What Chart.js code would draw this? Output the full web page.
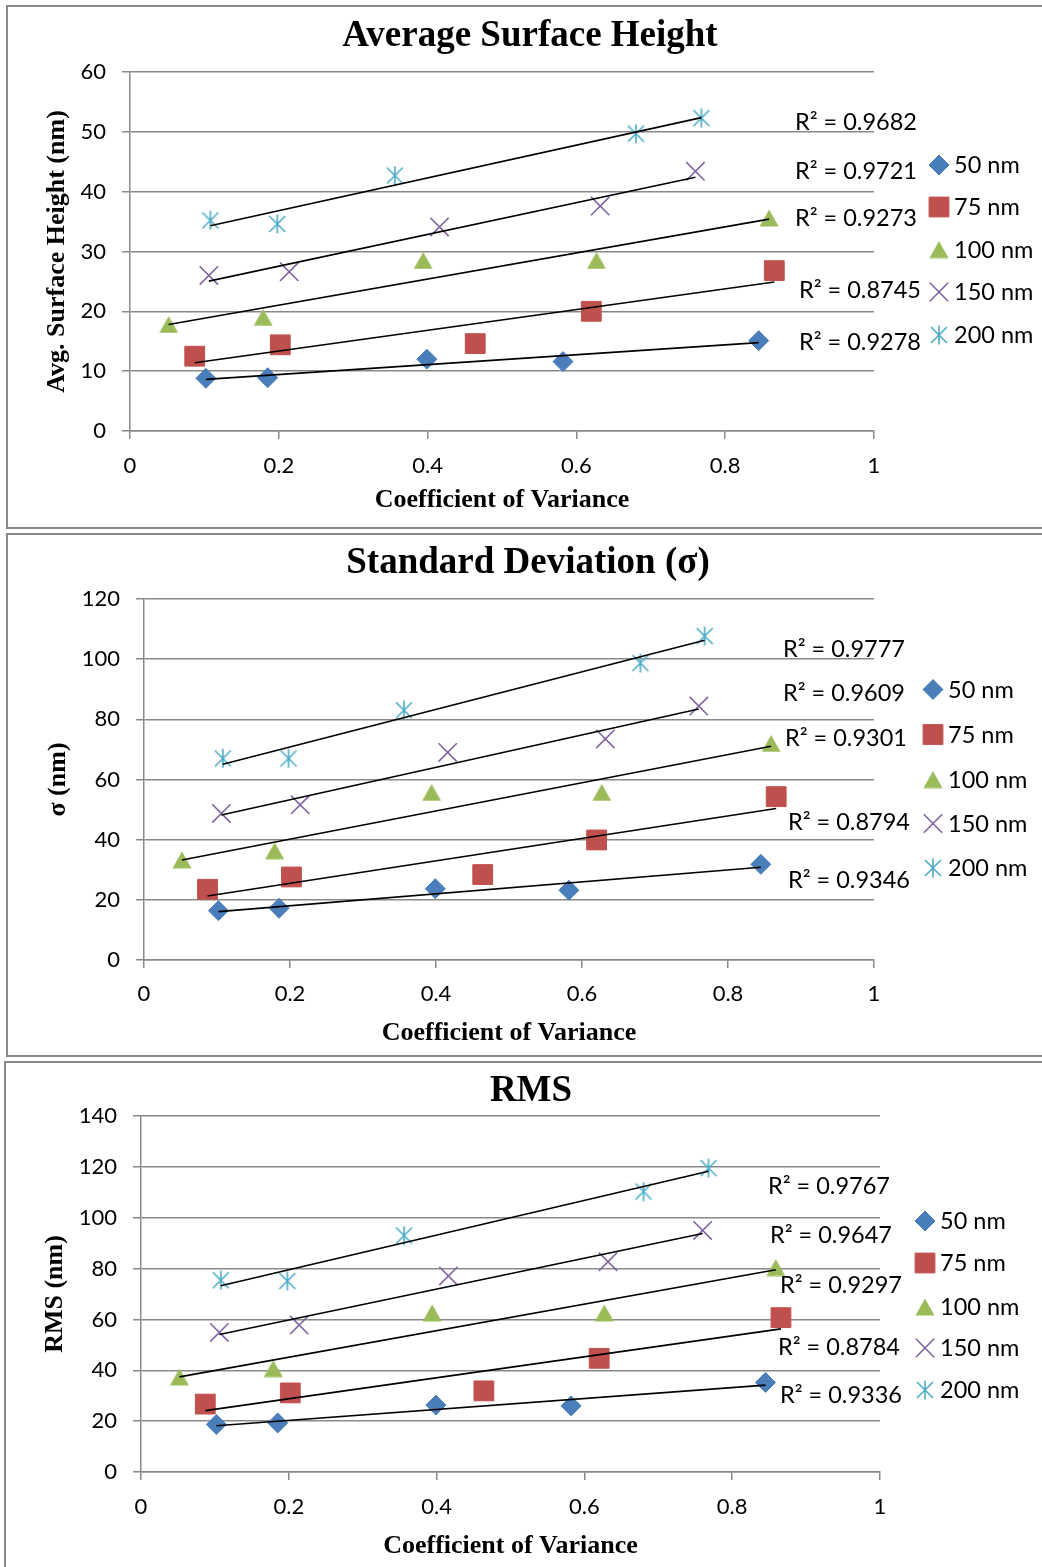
<!DOCTYPE html>
<html>
<head>
<meta charset="utf-8">
<title>Surface roughness vs. coefficient of variance</title>
<script src="https://cdn.jsdelivr.net/npm/chart.js@4.4.1/dist/chart.umd.min.js"></script>
<style>
  html, body { margin: 0; padding: 0; background: #fff; }
  body { width: 1042px; height: 1567px; overflow: hidden; position: relative; }
  .panel { position: absolute; box-sizing: border-box; border: 2px solid #898989; background: #fff; }
  .panel canvas { position: absolute; left: 0; top: 0; }
</style>
</head>
<body>
<div class="panel" style="left:6px;top:5px;width:1060px;height:524px"><canvas id="chartAvg" width="1056" height="520"></canvas></div>
<div class="panel" style="left:6px;top:533px;width:1060px;height:524px"><canvas id="chartSigma" width="1056" height="520"></canvas></div>
<div class="panel" style="left:4px;top:1061px;width:1062px;height:520px"><canvas id="chartRms" width="1058" height="516"></canvas></div>

<script>
// ---- data ----------------------------------------------------------------
const seriesNames = ['50 nm', '75 nm', '100 nm', '150 nm', '200 nm'];

// coefficient of variance of each sample, per particle size
const cov50  = [0.102, 0.185, 0.399, 0.582, 0.845];
const cov75  = [0.087, 0.202, 0.464, 0.620, 0.866];
const cov100 = [0.052, 0.179, 0.394, 0.627, 0.859];
const cov150 = [0.106, 0.214, 0.416, 0.632, 0.760];
const cov200 = [0.108, 0.198, 0.356, 0.680, 0.768];

// average surface height (nm)
const avg50  = [8.8, 8.9, 12.0, 11.6, 15.1];
const avg75  = [12.5, 14.4, 14.6, 20.0, 26.8];
const avg100 = [17.8, 19.0, 28.5, 28.5, 35.6];
const avg150 = [26.0, 26.6, 34.1, 37.6, 43.4];
const avg200 = [35.2, 34.6, 42.7, 49.7, 52.3];

// standard deviation sigma (nm)
const sigma50  = [16.4, 17.2, 23.7, 23.2, 31.8];
const sigma75  = [23.5, 27.6, 28.4, 39.9, 54.3];
const sigma100 = [33.3, 36.3, 55.7, 55.7, 72.0];
const sigma150 = [48.7, 51.6, 69.0, 73.5, 84.4];
const sigma200 = [67.0, 67.0, 83.0, 98.7, 107.7];

// RMS roughness (nm)
const rms50  = [18.7, 19.3, 26.3, 26.0, 35.2];
const rms75  = [26.7, 31.1, 31.9, 44.7, 60.7];
const rms100 = [37.4, 40.7, 62.6, 62.6, 80.4];
const rms150 = [54.9, 57.8, 77.1, 82.7, 95.0];
const rms200 = [75.4, 75.1, 93.0, 110.3, 119.5];

// R² of the linear trend lines, in series order (50 nm ... 200 nm)
const r2Avg   = ['0.9278', '0.8745', '0.9273', '0.9721', '0.9682'];
const r2Sigma = ['0.9346', '0.8794', '0.9301', '0.9609', '0.9777'];
const r2Rms   = ['0.9336', '0.8784', '0.9297', '0.9647', '0.9767'];

// axis ticks
const xTicks      = [0, 0.2, 0.4, 0.6, 0.8, 1];
const yTicksAvg   = [0, 10, 20, 30, 40, 50, 60];
const yTicksSigma = [0, 20, 40, 60, 80, 100, 120];
const yTicksRms   = [0, 20, 40, 60, 80, 100, 120, 140];

// ---- marker styles ---------------------------------------------------------
const COLORS = ['#4A7EBB', '#C0504D', '#9BBB59', '#8064A2', '#4BACC6'];

function triangleMarker(color) {
  const c = document.createElement('canvas');
  c.width = 20; c.height = 18;
  const g = c.getContext('2d');
  g.fillStyle = color;
  g.beginPath();
  g.moveTo(10, 0.5); g.lineTo(19.5, 17.5); g.lineTo(0.5, 17.5);
  g.closePath(); g.fill();
  return c;
}
function asteriskMarker(color) {
  const c = document.createElement('canvas');
  c.width = 20; c.height = 20;
  const g = c.getContext('2d');
  g.strokeStyle = color; g.lineWidth = 1.6;
  g.beginPath();
  g.moveTo(2, 2); g.lineTo(18, 18);
  g.moveTo(18, 2); g.lineTo(2, 18);
  g.moveTo(10, 0.5); g.lineTo(10, 19.5);
  g.stroke();
  return c;
}

const MARKERS = [
  { pointStyle: 'rectRot', radius: 10, borderWidth: 1 },
  { pointStyle: 'rect', radius: 14, borderWidth: 1 },
  { pointStyle: triangleMarker(COLORS[2]), radius: 10, borderWidth: 0 },
  { pointStyle: 'crossRot', radius: 13, borderWidth: 1.6 },
  { pointStyle: asteriskMarker(COLORS[4]), radius: 10, borderWidth: 0 }
];

// least-squares straight line across the range of the series
function trend(xs, ys) {
  const n = xs.length;
  const mx = xs.reduce((s, v) => s + v, 0) / n;
  const my = ys.reduce((s, v) => s + v, 0) / n;
  let sxy = 0, sxx = 0;
  for (let i = 0; i < n; i++) { sxy += (xs[i] - mx) * (ys[i] - my); sxx += (xs[i] - mx) ** 2; }
  const b = sxy / sxx, a = my - b * mx;
  const lo = Math.min(...xs), hi = Math.max(...xs);
  return [{ x: lo, y: a + b * lo }, { x: hi, y: a + b * hi }];
}

// ---- text drawn around the plot: title, legend, R² labels --------------------
const LABEL_FONT = '23.5px Lato, "Open Sans", sans-serif';
const LABEL_DROP = 8.4;   // cap-centre to baseline for the label font

const panelText = {
  id: 'panelText',
  afterDraw(chart, args, o) {
    const ctx = chart.ctx;
    ctx.save();
    ctx.fillStyle = '#000';
    ctx.textBaseline = 'alphabetic';

    // title
    ctx.font = 'bold 37px "Liberation Serif", "Times New Roman", serif';
    ctx.textAlign = 'center';
    ctx.fillText(o.title, o.titleX - o.ox, o.titleY - o.oy);

    ctx.font = LABEL_FONT;
    ctx.textAlign = 'left';

    // R² labels (left edge, cap centre)
    o.r2.forEach((txt, i) => {
      const p = o.r2Pos[i];
      ctx.fillText('R² = ' + txt, p[0] - o.ox, p[1] - o.oy + LABEL_DROP);
    });

    // legend
    const scatter = chart.data.datasets.filter(d => d.isSeries);
    scatter.forEach((ds, i) => {
      const y = o.legendY[i] - o.oy;
      ctx.save();
      ctx.fillStyle = ds.backgroundColor;
      ctx.strokeStyle = ds.borderColor;
      ctx.lineWidth = ds.borderWidth;
      Chart.helpers.drawPoint(ctx, {
        pointStyle: ds.pointStyle, radius: ds.pointRadius, rotation: 0, borderWidth: ds.borderWidth
      }, o.legendMarkerX - o.ox, y);
      ctx.restore();
      ctx.fillText(ds.label, o.legendTextX - o.ox, y + LABEL_DROP);
    });
    ctx.restore();
  }
};

// ---- one chart per panel ------------------------------------------------------
function buildChart(spec) {
  const canvas = document.getElementById(spec.id);
  const W = canvas.width, H = canvas.height;
  const ox = spec.origin[0], oy = spec.origin[1];
  const [L, T, R, B] = spec.area;            // plot area edges on the page
  const padLeft = 4;
  const yAxisW = (L - ox) - padLeft;
  const xAxisH = 95;
  const titleFont = { family: '"Liberation Serif", "Times New Roman", serif', size: 26, weight: 'bold', lineHeight: 1.2 };
  const half = 26 * 1.2 / 2;

  const datasets = [];
  spec.ys.forEach((ys, i) => {
    const xs = spec.xs[i];
    const m = MARKERS[i];
    datasets.push({
      isSeries: true,
      label: seriesNames[i],
      data: xs.map((x, j) => ({ x: x, y: ys[j] })),
      showLine: false,
      pointStyle: m.pointStyle,
      pointRadius: m.radius,
      pointHoverRadius: m.radius,
      backgroundColor: COLORS[i],
      borderColor: COLORS[i],
      borderWidth: m.borderWidth,
      order: 2
    });
  });
  spec.ys.forEach((ys, i) => {
    datasets.push({
      type: 'line',
      label: seriesNames[i] + ' trend',
      data: trend(spec.xs[i], ys),
      borderColor: '#000',
      borderWidth: 1.6,
      pointRadius: 0,
      fill: false,
      tension: 0,
      order: 1
    });
  });

  return new Chart(canvas, {
    type: 'scatter',
    data: { datasets },
    plugins: [panelText],
    options: {
      responsive: false,
      animation: false,
      devicePixelRatio: 1,
      layout: {
        padding: {
          left: padLeft,
          top: T - oy,
          right: W - (R - ox),
          bottom: Math.max(0, H - (B - oy) - xAxisH)
        }
      },
      plugins: {
        legend: { display: false },
        title: { display: false },
        tooltip: { enabled: false },
        panelText: {
          ox, oy,
          title: spec.title, titleX: spec.titlePos[0], titleY: spec.titlePos[1],
          r2: spec.r2, r2Pos: spec.r2Pos,
          legendMarkerX: spec.legend[0], legendTextX: spec.legend[1], legendY: spec.legend[2]
        }
      },
      scales: {
        x: {
          type: 'linear',
          position: 'bottom',
          min: 0, max: 1,
          afterBuildTicks: s => { s.ticks = xTicks.map(v => ({ value: v })); },
          afterFit: s => { s.height = xAxisH; },
          ticks: {
            callback: v => String(v),
            color: '#000',
            padding: spec.xTickPad,
            font: { family: 'Lato, "Open Sans", sans-serif', size: 22 },
            maxRotation: 0, autoSkip: false
          },
          grid: { drawOnChartArea: false, drawTicks: true, tickLength: 8, color: '#898989', lineWidth: 1.5 },
          border: { display: true, color: '#898989', width: 1.5 },
          title: {
            display: true, text: 'Coefficient of Variance', color: '#000', font: titleFont,
            padding: { top: 0, bottom: (B - oy + xAxisH) - half - (spec.xTitleY - oy) }
          }
        },
        y: {
          type: 'linear',
          min: spec.yTicks[0], max: spec.yTicks[spec.yTicks.length - 1],
          afterBuildTicks: s => { s.ticks = spec.yTicks.map(v => ({ value: v })); },
          afterFit: s => { s.width = yAxisW; },
          ticks: {
            callback: v => String(v),
            color: '#000',
            padding: 16,
            font: { family: 'Lato, "Open Sans", sans-serif', size: 22 }
          },
          grid: { drawTicks: true, tickLength: 8, color: '#898989', lineWidth: 1.5 },
          border: { display: true, color: '#898989', width: 1.5 },
          title: {
            display: true, text: spec.yTitle, color: '#000', font: titleFont,
            padding: { top: (spec.yTitleX - ox) - padLeft - half, bottom: 0 }
          }
        }
      }
    }
  });
}

const covAll = [cov50, cov75, cov100, cov150, cov200];

buildChart({
  id: 'chartAvg', origin: [8, 7], area: [130, 72, 874, 431],
  title: 'Average Surface Height', titlePos: [530, 46],
  yTitle: 'Avg. Surface Height (nm)', yTitleX: 57, xTitleY: 500, xTickPad: 14,
  yTicks: yTicksAvg, xs: covAll, ys: [avg50, avg75, avg100, avg150, avg200],
  r2: r2Avg, r2Pos: [[799, 342], [799, 290], [795, 218], [795, 171], [795, 122]],
  legend: [939, 954, [165, 207, 249.5, 292, 335]]
});

buildChart({
  id: 'chartSigma', origin: [8, 535], area: [144, 599, 874, 960],
  title: 'Standard Deviation (σ)', titlePos: [528, 573],
  yTitle: 'σ (nm)', yTitleX: 58, xTitleY: 1033, xTickPad: 13,
  yTicks: yTicksSigma, xs: covAll, ys: [sigma50, sigma75, sigma100, sigma150, sigma200],
  r2: r2Sigma, r2Pos: [[788, 880], [788, 822], [785, 738], [783, 693], [783, 649]],
  legend: [933, 948, [689.5, 734.5, 779.5, 823.5, 868]]
});

buildChart({
  id: 'chartRms', origin: [6, 1063], area: [141, 1116, 880, 1472],
  title: 'RMS', titlePos: [531, 1101],
  yTitle: 'RMS (nm)', yTitleX: 55, xTitleY: 1546, xTickPad: 14,
  yTicks: yTicksRms, xs: covAll, ys: [rms50, rms75, rms100, rms150, rms200],
  r2: r2Rms, r2Pos: [[780, 1395], [778, 1347], [780, 1285], [770, 1235], [768, 1186]],
  legend: [925, 940, [1221, 1263, 1307, 1348, 1390]]
});
</script>
</body>
</html>
